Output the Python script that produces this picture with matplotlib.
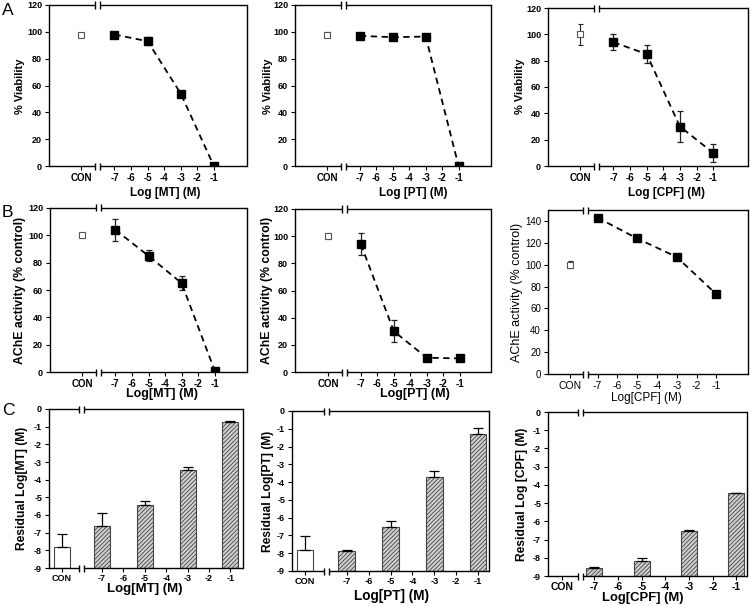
import numpy as np
import matplotlib
matplotlib.use("Agg")
import matplotlib.pyplot as plt

plt.rcParams['font.family'] = ['Liberation Sans', 'DejaVu Sans']
plt.rcParams['hatch.linewidth'] = 0.6

W, H = 750, 606

# ---- data ----
tick_logs = [-7, -6, -5, -4, -3, -2, -1]
conc = [-7, -5, -3, -1]

# A: % viability
viab_mt = [98, 93, 54, 0]
viab_mt_err = [2, 3, 2, 0.5]
viab_mt_con, viab_mt_con_err = 98, 1.5
viab_pt = [97, 96, 96.5, 0]
viab_pt_err = [1, 1, 1, 0.5]
viab_pt_con, viab_pt_con_err = 98, 2
viab_cpf = [94, 85, 30, 10]
viab_cpf_err = [6, 7, 12, 7]
viab_cpf_con, viab_cpf_con_err = 100, 8

# B: AChE activity (% control)
ache_mt = [104, 85, 65, 1]
ache_mt_err = [8, 4, 5, 0.5]
ache_mt_con, ache_mt_con_err = 100, 2
ache_pt = [94, 30, 10.5, 10]
ache_pt_err = [8, 8, 0.5, 0.5]
ache_pt_con, ache_pt_con_err = 100, 2
ache_cpf = [143, 124, 107, 73]
ache_cpf_err = [2, 2, 2, 2.5]
ache_cpf_con, ache_cpf_con_err = 100, 3

# C: residual log concentration
resid_mt = [-6.65, -5.45, -3.45, -0.72]
resid_mt_err = [0.75, 0.27, 0.17, 0.03]
resid_mt_con, resid_mt_con_err = -7.8, 0.75
resid_pt = [-7.85, -6.5, -3.7, -1.3]
resid_pt_err = [0.04, 0.3, 0.3, 0.35]
resid_pt_con, resid_pt_con_err = -7.8, 0.75
resid_cpf = [-8.55, -8.15, -6.55, -4.45]
resid_cpf_err = [0.02, 0.15, 0.05, 0.03]
resid_cpf_con, resid_cpf_con_err = None, None

fig = plt.figure(figsize=(W / 100, H / 100), dpi=100)


def make_axes(l, t, r, b):
    return fig.add_axes([l / W, 1 - b / H, (r - l) / W, (b - t) / H])


def px_to_axes(ax, xp, yp):
    disp = fig.transFigure.transform((xp / W, 1 - yp / H))
    return ax.transAxes.inverted().transform(disp)


def broken_frame(ax, xbreak, gap_px=2.5, mark_px=3.5):
    bb = ax.get_position()
    w_px = bb.width * W
    h_px = bb.height * H
    x0, x1 = ax.get_xlim()
    dx = gap_px * (x1 - x0) / w_px
    dy = mark_px / h_px
    tr = ax.get_xaxis_transform()
    ax.spines['top'].set_visible(False)
    ax.spines['bottom'].set_visible(False)
    kw = dict(transform=tr, color='k', lw=1.0, clip_on=False, solid_capstyle='butt')
    for y in (0, 1):
        ax.plot([x0, xbreak - dx], [y, y], **kw)
        ax.plot([xbreak + dx, x1], [y, y], **kw)
        for xx in (xbreak - dx, xbreak + dx):
            ax.plot([xx, xx], [y - dy, y + dy], **kw)


def style_axes(ax, xlim, con_x, xbreak, ylim, yticks, ylabel, xlabel,
               ylab_px, xlab_px, ytick_fs, xtick_fs, ylab_fs, xlab_fs, bold=True,
               xpad=2):
    weight = 'bold' if bold else 'normal'
    ax.set_xlim(*xlim)
    ax.set_ylim(*ylim)
    ax.set_yticks(yticks)
    ax.set_yticklabels([str(v) for v in yticks], fontsize=ytick_fs, fontweight=weight)
    ax.set_xticks([con_x] + tick_logs)
    ax.set_xticklabels(['CON'] + [str(v) for v in tick_logs], fontsize=xtick_fs,
                       fontweight=weight)
    ax.tick_params(direction='out', length=3, width=0.8, pad=2)
    ax.tick_params(axis='x', pad=xpad)
    for s in ('left', 'right'):
        ax.spines[s].set_linewidth(1.0)
    ax.set_ylabel(ylabel, fontsize=ylab_fs, fontweight=weight, va='center')
    ax.set_xlabel(xlabel, fontsize=xlab_fs, fontweight=weight, va='center')
    ax.yaxis.set_label_coords(*px_to_axes(ax, *ylab_px))
    ax.xaxis.set_label_coords(*px_to_axes(ax, *xlab_px))
    broken_frame(ax, xbreak)


def line_panel(ax, vals, errs, con, con_err, con_x):
    ax.errorbar(conc, vals, yerr=errs, fmt='none', ecolor='#222', elinewidth=0.9,
                capsize=2, capthick=0.9, zorder=2)
    ax.plot(conc, vals, color='k', ls=(0, (3.5, 2.5)), lw=1.3, marker='s',
            ms=5.5, mfc='k', mec='k', zorder=3)
    ax.errorbar([con_x], [con], yerr=[con_err], fmt='s', ms=5, mfc='white',
                mec='#555', mew=0.8, ecolor='#222', elinewidth=0.8, capsize=1.8,
                capthick=0.8, zorder=3)


def bar_panel(ax, vals, errs, con, con_err, con_x, width):
    base = -9
    ax.bar(conc, np.array(vals) - base, bottom=base, width=width, color='#d0d0d0',
           edgecolor='#444', hatch='////////', lw=0.8, zorder=2)
    ax.errorbar(conc, vals, yerr=[np.zeros(len(errs)), errs], fmt='none',
                ecolor='k', elinewidth=0.9, capsize=3.5, capthick=0.9, zorder=3)
    if con is not None:
        ax.bar([con_x], [con - base], bottom=base, width=width, color='white',
               edgecolor='#444', lw=0.8, zorder=2)
        ax.errorbar([con_x], [con], yerr=[[0], [con_err]], fmt='none',
                    ecolor='k', elinewidth=0.9, capsize=3.5, capthick=0.9, zorder=3)


y_ab = [0, 20, 40, 60, 80, 100, 120]
y_c = list(range(0, -10, -1))

# ---- Row A ----
rowA = [
    ((49, 5, 247, 166), viab_mt, viab_mt_err, viab_mt_con, viab_mt_con_err,
     'Log [MT] (M)', (20, 86), (165, 193), (-10.95, 1.0)),
    ((295, 5, 491, 166), viab_pt, viab_pt_err, viab_pt_con, viab_pt_con_err,
     'Log [PT] (M)', (268, 86), (413, 193), (-10.95, 0.97)),
    ((548, 8, 748, 166), viab_cpf, viab_cpf_err, viab_cpf_con, viab_cpf_con_err,
     'Log [CPF] (M)', (520, 86), (667, 193), (-10.94, 1.1)),
]
for box, v, e, c, ce, xl, ylp, xlp, xlim in rowA:
    ax = make_axes(*box)
    line_panel(ax, v, e, c, ce, -9)
    style_axes(ax, xlim, -9, -8, (0, 120), y_ab, '% Viability', xl, ylp, xlp,
               6.5, 7, 8, 8.5)

# ---- Row B ----
rowB = [
    ((50, 208, 247, 372), ache_mt, ache_mt_err, ache_mt_con, ache_mt_con_err,
     'Log[MT] (M)', (20, 290), (162, 394), (-10.95, 0.95), -9, -8),
    ((295, 209, 491, 372), ache_pt, ache_pt_err, ache_pt_con, ache_pt_con_err,
     'Log[PT] (M)', (267, 290), (415, 394), (-11.0, 0.9), -9, -8),
]
for box, v, e, c, ce, xl, ylp, xlp, xlim, cx, xb in rowB:
    ax = make_axes(*box)
    line_panel(ax, v, e, c, ce, cx)
    style_axes(ax, xlim, cx, xb, (0, 120), y_ab, 'AChE activity (% control)', xl,
               ylp, xlp, 6.5, 7, 8.8, 9)

ax = make_axes(548, 210, 748, 374)
line_panel(ax, ache_cpf, ache_cpf_err, ache_cpf_con, ache_cpf_con_err, -8.4)
style_axes(ax, (-9.5, 0.6), -8.4, -7.6, (0, 150), [0, 20, 40, 60, 80, 100, 120, 140],
           'AChE activity (% control)', 'Log[CPF] (M)', (517, 292), (646, 398),
           7, 7.5, 9, 8.5, bold=False)

# ---- Row C ----
rowC = [
    ((49, 409, 243, 568), resid_mt, resid_mt_err, resid_mt_con, resid_mt_con_err,
     'Residual Log[MT] (M)', 'Log[MT] (M)', (22, 488), (145, 589),
     (-9.47, -0.41), -8.86, -7.93, 0.75, 6.5, 9.5),
    ((292, 411, 489, 571), resid_pt, resid_pt_err, resid_pt_con, resid_pt_con_err,
     'Residual Log[PT] (M)', 'Log[PT] (M)', (268, 491), (391, 596),
     (-9.5, -0.5), -8.9, -7.94, 0.76, 6.7, 9.8),
    ((548, 412, 747, 576), resid_cpf, resid_cpf_err, resid_cpf_con, resid_cpf_con_err,
     'Residual Log [CPF] (M)', 'Log[CPF] (M)', (522, 494), (643, 598),
     (-8.96, -0.55), -8.37, -7.59, 0.68, 7.5, 9.4),
]
for box, v, e, c, ce, yl, xl, ylp, xlp, xlim, cx, xb, bw, xfs, xlfs in rowC:
    ax = make_axes(*box)
    bar_panel(ax, v, e, c, ce, cx, bw)
    style_axes(ax, xlim, cx, xb, (-9, 0), y_c, yl, xl, ylp, xlp,
               6.5, xfs, 8.7, xlfs, xpad=1.5)

# panel letters
for letter, ypx in (('A', 15), ('B', 217), ('C', 415)):
    fig.text(2 / W, 1 - ypx / H, letter, fontsize=12.5, va='baseline', ha='left')

fig.savefig('out.png', dpi=100)
